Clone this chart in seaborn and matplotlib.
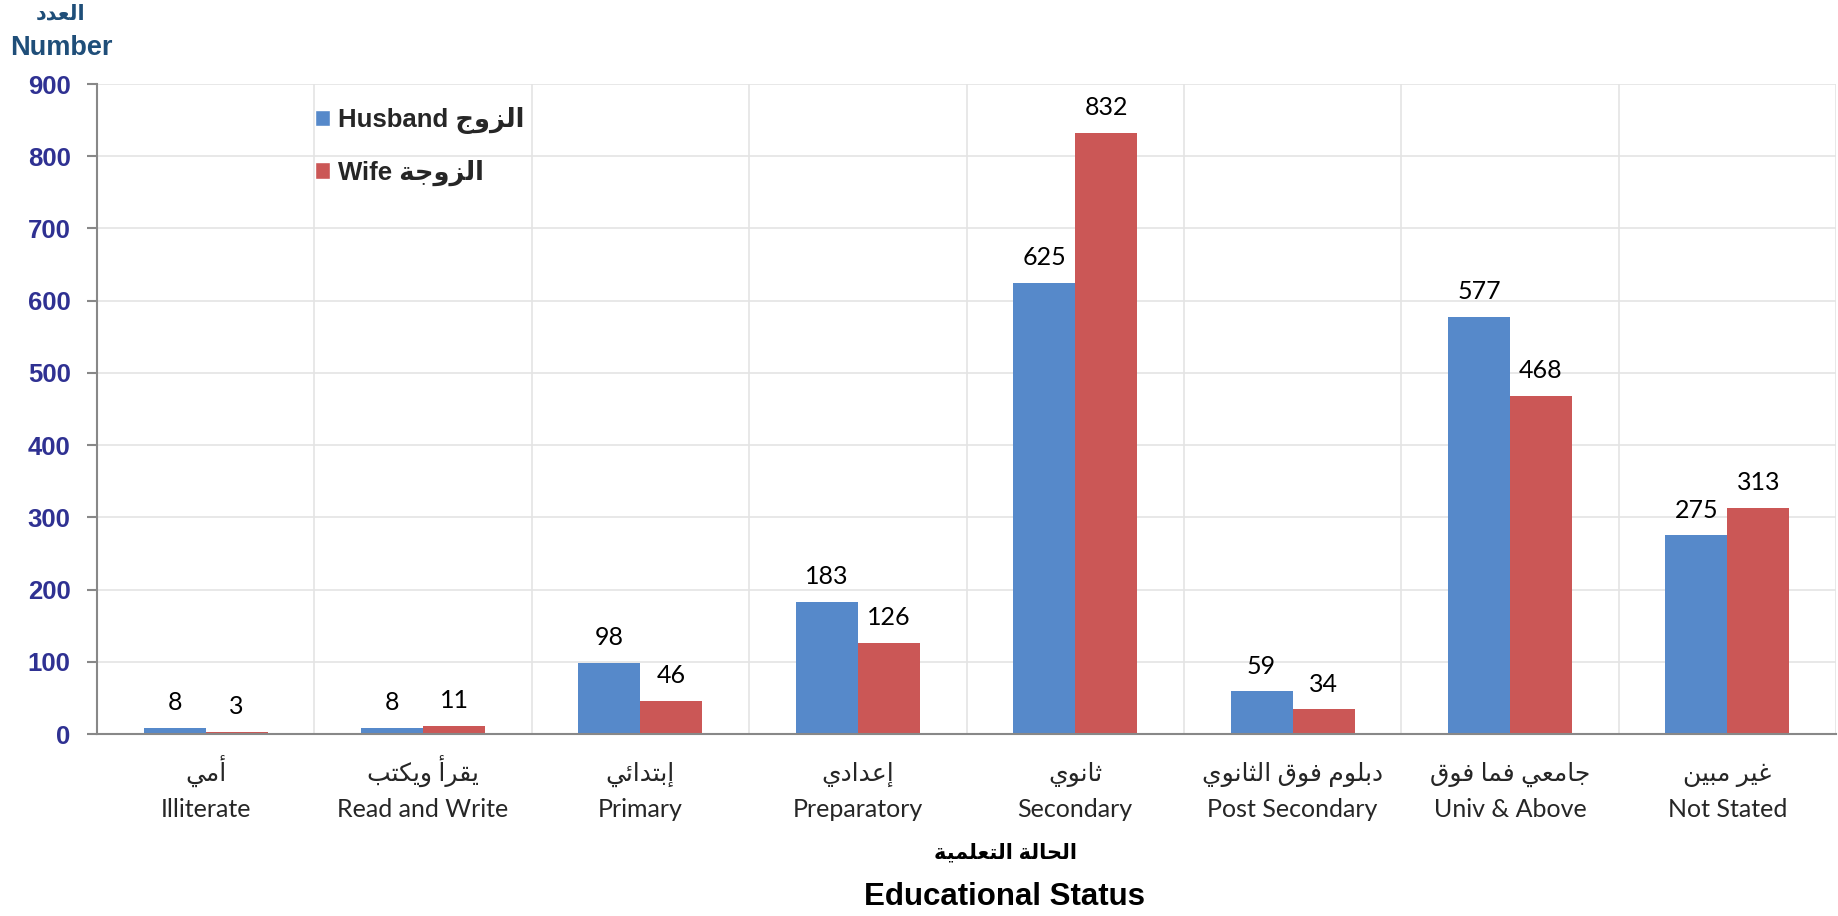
import pandas as pd
import matplotlib.pyplot as plt
import seaborn as sns
import numpy as np
from matplotlib.patches import Patch


# DATA
categories_ar = ['أمي', 'يقرأ ويكتب', 'إبتدائي', 'إعدادي', 'ثانوي',
                 'دبلوم فوق الثانوي', 'جامعي فما فوق', 'غير مبين']
categories_en = ['Illiterate', 'Read and Write', 'Primary', 'Preparatory', 'Secondary',
                 'Post Secondary', 'Univ & Above', 'Not Stated']
husband = [8, 8, 98, 183, 625, 59, 577, 275]
wife = [3, 11, 46, 126, 832, 34, 468, 313]
y_ticks = [0, 100, 200, 300, 400, 500, 600, 700, 800, 900]


# Arabic shaping (matplotlib draws glyphs one by one, left to right)
AR_LETTERS = 'ءآأؤإئابةتثجحخدذرزسشصضطظعغفقكلمنهوىي'
AR_NFORMS = [1, 2, 2, 2, 2, 4, 2, 4, 2, 4, 4, 4, 4, 4, 2, 2, 2, 2, 4, 4,
             4, 4, 4, 4, 4, 4, 4, 4, 4, 4, 4, 4, 4, 2, 2, 4]
forms = {}
cp = 0xFE80
for ch, n in zip(AR_LETTERS, AR_NFORMS):
    forms[ch] = [chr(cp + k) for k in range(n)]
    cp += n


def ar(text):
    out = []
    for i, ch in enumerate(text):
        if ch not in forms:
            out.append(ch)
            continue
        prev = text[i - 1] if i > 0 else ''
        nxt = text[i + 1] if i + 1 < len(text) else ''
        join_prev = prev in forms and len(forms[prev]) == 4
        join_next = len(forms[ch]) == 4 and nxt in forms
        f = forms[ch]
        if len(f) == 1:
            out.append(f[0])
        elif join_prev and join_next:
            out.append(f[3])
        elif join_prev:
            out.append(f[1])
        elif join_next:
            out.append(f[2])
        else:
            out.append(f[0])
    return ''.join(out)[::-1]


# Long form for seaborn
df = pd.DataFrame({
    'Category': categories_en * 2,
    'Value': husband + wife,
    'Spouse': ['Husband'] * len(husband) + ['Wife'] * len(wife),
})

BLUE = '#5689CA'
RED = '#CB5756'
SANS = ['Liberation Sans', 'DejaVu Sans']
CAL = ['Lato', 'DejaVu Sans']
W, H = 1838, 916

sns.set_style('white')
fig, ax = plt.subplots(figsize=(W / 100, H / 100), dpi=100)
fig.subplots_adjust(left=97 / W, right=1836 / W, bottom=1 - 734 / H, top=1 - 84 / H)

sns.barplot(data=df, x='Category', y='Value', hue='Spouse', order=categories_en,
            palette={'Husband': BLUE, 'Wife': RED}, saturation=1, width=0.57,
            linewidth=0, ax=ax, legend=False)

for cont in ax.containers:
    ax.bar_label(cont, padding=10, fontsize=18, family=CAL, color='black')

# Axes
ax.set_xlim(-0.5, len(categories_en) - 0.5)
ax.set_ylim(0, 900)
ax.set_yticks(y_ticks)
ax.set_yticklabels([str(t) for t in y_ticks], fontsize=18.5, fontweight='bold',
                   family=SANS, color='#2F3192')
ax.set_xticks(range(len(categories_en)))
ax.set_xticklabels([''] * len(categories_en))
ax.set_xticks(np.arange(-0.5, len(categories_en)), minor=True)
ax.tick_params(axis='x', which='major', length=0)
ax.tick_params(axis='x', which='minor', length=9, width=1.5, color='#888888', direction='out')
ax.tick_params(axis='y', length=7, width=1.5, color='#888888', direction='out', pad=12, left=True)
ax.set_xlabel('')
ax.set_ylabel('')

# two-line category labels (Arabic above English), fixed baselines
trans = ax.get_xaxis_transform()
sp = fig.subplotpars
y_ar = (1 - 781 / H - sp.bottom) / (sp.top - sp.bottom)
y_en = (1 - 817 / H - sp.bottom) / (sp.top - sp.bottom)
for i, (a, e) in enumerate(zip(categories_ar, categories_en)):
    ax.text(i, y_ar, ar(a), transform=trans, ha='center', va='baseline',
            fontsize=18, family=CAL, clip_on=False)
    ax.text(i, y_en, e, transform=trans, ha='center', va='baseline',
            fontsize=18, family=CAL, clip_on=False)

ax.grid(False)
ax.yaxis.grid(True, color='#E4E4E4', linewidth=1.2)
ax.xaxis.grid(True, which='minor', color='#E4E4E4', linewidth=1.2)
ax.set_axisbelow(True)
for s in ['top', 'right']:
    ax.spines[s].set_visible(False)
for s in ['left', 'bottom']:
    ax.spines[s].set_color('#888888')
    ax.spines[s].set_linewidth(1.5)

# Legend
handles = [Patch(facecolor=BLUE), Patch(facecolor=RED)]
labels = ['Husband ' + ar('الزوج'), 'Wife ' + ar('الزوجة')]
ax.legend(handles, labels, loc='upper left', bbox_to_anchor=(302 / W, 1 - 94 / H),
          bbox_transform=fig.transFigure, frameon=False, handlelength=0.6, handleheight=0.6,
          handletextpad=0.3, labelspacing=1.0, borderpad=0,
          prop={'family': SANS, 'weight': 'bold', 'size': 18.5})

# Axis titles
fig.text(61 / W, 1 - 14 / H, ar('العدد'), ha='center', va='center', fontsize=15,
         fontweight='bold', family=SANS, color='#1F4E79')
fig.text(61 / W, 1 - 48 / H, 'Number', ha='center', va='center', fontsize=19.5,
         fontweight='bold', family=SANS, color='#1F4E79')
fig.text(1005 / W, 1 - 853 / H, ar('الحالة التعلمية'), ha='center', va='center',
         fontsize=15, fontweight='bold', family=SANS, color='black')
fig.text(1005 / W, 1 - 897 / H, 'Educational Status', ha='center', va='center',
         fontsize=22.5, fontweight='bold', family=SANS, color='black')

plt.savefig('out.png', dpi=100)
